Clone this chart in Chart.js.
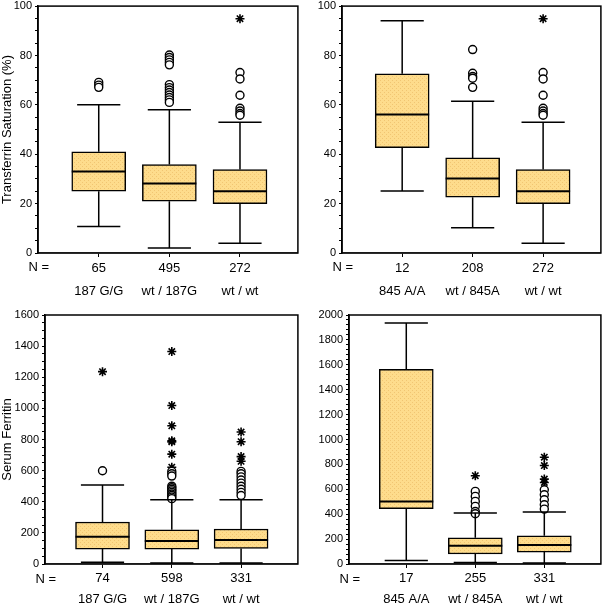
<!DOCTYPE html>
<html>
<head>
<meta charset="utf-8">
<script src="https://cdn.jsdelivr.net/npm/chart.js@4.4.1/dist/chart.umd.min.js"></script>
<style>
  html, body { margin: 0; padding: 0; background: #fff; }
  #wrap { position: relative; width: 607px; height: 604px; overflow: hidden; }
  #wrap canvas { position: absolute; }
</style>
</head>
<body>
<div id="wrap">
  <canvas id="satA" width="304" height="302" style="left:0;top:0"></canvas>
  <canvas id="satB" width="303" height="302" style="left:304px;top:0"></canvas>
  <canvas id="ferA" width="304" height="302" style="left:0;top:302px"></canvas>
  <canvas id="ferB" width="303" height="302" style="left:304px;top:302px"></canvas>
</div>
<script>
// --- Data: transferrin saturation, 187G genotypes ---
const satGroupsA = ['187 G/G', 'wt / 187G', 'wt / wt'];
const satCountsA = ['65', '495', '272'];
const satLowA = [10.7, 2, 3.9];
const satQ1A = [25, 21, 20];
const satMedA = [33, 28.1, 25];
const satQ3A = [41, 35.8, 33.8];
const satHighA = [60, 58, 53];
const satCirclesA = [[69.1, 68, 67.1], [80.2, 79.2, 78.2, 77.2, 76.2, 68.2, 67, 66, 65, 64, 63, 62, 61], [73.1, 70.5, 63.9, 58.6, 57.5, 56.5, 55.8]];
const satStarsA = [[], [], [94.9]];

// --- Data: transferrin saturation, 845A genotypes ---
const satGroupsB = ['845 A/A', 'wt / 845A', 'wt / wt'];
const satCountsB = ['12', '208', '272'];
const satLowB = [25.1, 10.2, 3.9];
const satQ1B = [42.7, 22.6, 20];
const satMedB = [56.1, 30.2, 25];
const satQ3B = [72.6, 38.5, 33.8];
const satHighB = [94.1, 61.5, 53];
const satCirclesB = [[], [82.4, 72.8, 71.5, 70.8, 67.1], [73.1, 70.5, 63.9, 58.6, 57.5, 56.5, 55.8]];
const satStarsB = [[], [], [94.9]];

// --- Data: serum ferritin, 187G genotypes ---
const ferGroupsA = ['187 G/G', 'wt / 187G', 'wt / wt'];
const ferCountsA = ['74', '598', '331'];
const ferLowA = [11, 6, 6];
const ferQ1A = [96, 96, 100];
const ferMedA = [175, 148, 154];
const ferQ3A = [270, 220, 225];
const ferHighA = [507, 413, 413];
const ferCirclesA = [[599], [595, 580, 565, 500, 490, 480, 470, 460, 450, 440, 430, 420], [595, 580, 560, 540, 520, 500, 480, 460, 440]];
const ferStarsA = [[1236], [1365, 1018, 888, 792, 785, 706, 622], [848, 786, 690, 660]];

// --- Data: serum ferritin, 845A genotypes ---
const ferGroupsB = ['845 A/A', 'wt / 845A', 'wt / wt'];
const ferCountsB = ['17', '255', '331'];
const ferLowB = [29, 13, 8];
const ferQ1B = [444, 80, 96];
const ferMedB = [503, 147, 152];
const ferQ3B = [1564, 211, 227];
const ferHighB = [1936, 409, 417];
const ferCirclesB = [[], [583, 543, 503, 463, 422, 404], [596, 556, 516, 476, 441]];
const ferStarsB = [[], [709], [858, 791, 682, 655]];

const FONT = "'Liberation Sans', Arial, Helvetica, sans-serif";

// dotted yellow fill like the original print
function boxFill() {
  const c = document.createElement('canvas');
  c.width = 4; c.height = 4;
  const g = c.getContext('2d');
  g.fillStyle = '#fedc8c';
  g.fillRect(0, 0, 4, 4);
  g.fillStyle = '#f1c572';
  g.fillRect(0, 0, 1, 1);
  g.fillRect(2, 2, 1, 1);
  return g.createPattern(c, 'repeat');
}

function flatten(groups) {
  const out = [];
  groups.forEach((vals, i) => vals.forEach(v => out.push({ x: i + 1, y: v })));
  return out;
}

// whiskers, caps, medians and the "N =" label
function boxPlugin(p) {
  return {
    id: 'boxExtras',
    afterDatasetsDraw(chart) {
      const { ctx, chartArea } = chart;
      const xs = chart.scales.x, ys = chart.scales.y;
      const bars = chart.getDatasetMeta(0).data;
      ctx.save();
      ctx.strokeStyle = '#000';
      ctx.lineWidth = 1.5;
      p.groups.forEach((g, i) => {
        const x = xs.getPixelForValue(i + 1);
        const half = bars[i].width / 2;
        const cap = half * 0.8;
        ctx.beginPath();
        ctx.moveTo(x, ys.getPixelForValue(p.q3[i])); ctx.lineTo(x, ys.getPixelForValue(p.high[i]));
        ctx.moveTo(x, ys.getPixelForValue(p.q1[i])); ctx.lineTo(x, ys.getPixelForValue(p.low[i]));
        ctx.moveTo(x - cap, ys.getPixelForValue(p.high[i])); ctx.lineTo(x + cap, ys.getPixelForValue(p.high[i]));
        ctx.moveTo(x - cap, ys.getPixelForValue(p.low[i])); ctx.lineTo(x + cap, ys.getPixelForValue(p.low[i]));
        ctx.stroke();
        ctx.lineWidth = 2;
        ctx.beginPath();
        ctx.moveTo(x - half, ys.getPixelForValue(p.med[i])); ctx.lineTo(x + half, ys.getPixelForValue(p.med[i]));
        ctx.stroke();
        ctx.lineWidth = 1.5;
      });
      // frame on top and right
      ctx.strokeRect(chartArea.left, chartArea.top, chartArea.right - chartArea.left, chartArea.bottom - chartArea.top);
      ctx.fillStyle = '#000';
      ctx.font = '13px ' + FONT;
      ctx.textAlign = 'right';
      ctx.textBaseline = 'middle';
      ctx.fillText('N =', chartArea.left + 11, chartArea.bottom + p.nOffset);
      ctx.restore();
    }
  };
}

function makePanel(id, p) {
  new Chart(document.getElementById(id), {
    data: {
      datasets: [
        {
          type: 'bar',
          data: p.groups.map((g, i) => ({ x: i + 1, y: [p.q1[i], p.q3[i]] })),
          backgroundColor: boxFill(),
          borderColor: '#000',
          borderWidth: 1.5,
          borderSkipped: false,
          barThickness: 54
        },
        {
          type: 'scatter',
          data: flatten(p.circles),
          pointStyle: 'circle',
          pointRadius: 4,
          backgroundColor: '#fff',
          borderColor: '#000',
          borderWidth: 1.4
        },
        {
          type: 'scatter',
          data: flatten(p.stars),
          pointStyle: 'star',
          pointRadius: 4.5,
          borderColor: '#000',
          borderWidth: 1.6
        }
      ]
    },
    options: {
      responsive: false,
      devicePixelRatio: 1,
      animation: false,
      layout: { padding: { top: p.top, right: p.right, left: 0, bottom: 0 } },
      plugins: { legend: { display: false }, tooltip: { enabled: false } },
      scales: {
        x: {
          type: 'linear',
          offset: false,
          min: p.xmin,
          max: 3.82,
          afterBuildTicks: s => { s.ticks = [1, 2, 3].map(v => ({ value: v })); },
          ticks: {
            autoSkip: false,
            maxRotation: 0,
            padding: 0,
            color: '#000',
            font: { family: FONT, size: 13, lineHeight: p.lineH },
            callback: v => [p.counts[v - 1], p.groups[v - 1]]
          },
          grid: { offset: false, drawOnChartArea: false, tickLength: 4, color: '#000' },
          border: { color: '#666', width: 1.5 },
          afterFit: s => { s.height = p.xh; s.paddingLeft = 0; s.paddingRight = 0; }
        },
        y: {
          min: 0,
          max: p.ymax,
          afterBuildTicks: s => {
            const t = [];
            for (let v = 0; v <= p.ymax; v += p.minor) t.push({ value: v });
            s.ticks = t;
          },
          ticks: {
            autoSkip: false,
            padding: 3,
            color: '#000',
            font: { family: FONT, size: 11 },
            callback: v => (v % p.major === 0 ? String(v) : '')
          },
          grid: { drawOnChartArea: false, tickLength: 3, color: '#000' },
          border: { color: '#000', width: 1.5 },
          title: {
            display: !!p.title,
            text: p.title || '',
            color: '#000',
            padding: 0,
            font: { family: FONT, size: 13 }
          },
          afterFit: s => { s.width = p.yw; s.paddingTop = 0; s.paddingBottom = 0; }
        }
      }
    },
    plugins: [boxPlugin(p)]
  });
}

makePanel('satA', {
  groups: satGroupsA, counts: satCountsA, low: satLowA, q1: satQ1A, med: satMedA, q3: satQ3A, high: satHighA,
  circles: satCirclesA, stars: satStarsA, title: 'Transferrin Saturation (%)',
  ymax: 100, minor: 5, major: 20, yw: 38, xh: 49, top: 4, right: 2, xmin: 0.14, lineH: 1.77, nOffset: 14
});
makePanel('satB', {
  groups: satGroupsB, counts: satCountsB, low: satLowB, q1: satQ1B, med: satMedB, q3: satQ3B, high: satHighB,
  circles: satCirclesB, stars: satStarsB, title: '',
  ymax: 100, minor: 5, major: 20, yw: 38, xh: 49, top: 5, right: 1, xmin: 0.146, lineH: 1.77, nOffset: 14
});
makePanel('ferA', {
  groups: ferGroupsA, counts: ferCountsA, low: ferLowA, q1: ferQ1A, med: ferMedA, q3: ferQ3A, high: ferHighA,
  circles: ferCirclesA, stars: ferStarsA, title: 'Serum Ferritin',
  ymax: 1600, minor: 50, major: 200, yw: 45, xh: 40, top: 13, right: 2, xmin: 0.17, lineH: 1.62, nOffset: 15
});
makePanel('ferB', {
  groups: ferGroupsB, counts: ferCountsB, low: ferLowB, q1: ferQ1B, med: ferMedB, q3: ferQ3B, high: ferHighB,
  circles: ferCirclesB, stars: ferStarsB, title: '',
  ymax: 2000, minor: 40, major: 200, yw: 45, xh: 40, top: 13, right: 1, xmin: 0.17, lineH: 1.62, nOffset: 15
});
</script>
</body>
</html>
